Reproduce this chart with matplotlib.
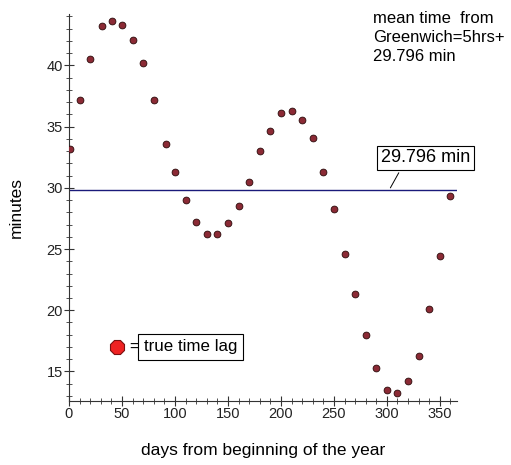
import matplotlib
matplotlib.use("Agg")
import matplotlib.pyplot as plt
from matplotlib.ticker import MultipleLocator

plt.rcParams['font.family'] = ['Liberation Sans', 'DejaVu Sans']

days = [1, 10, 20, 31, 41, 50, 60, 70, 80, 92, 100, 110, 120, 130, 140, 150,
        160, 170, 180, 190, 200, 210, 220, 230, 240, 250, 260, 270, 280, 290,
        300, 310, 320, 330, 340, 350, 360]
minutes = [33.2, 37.2, 40.5, 43.2, 43.6, 43.3, 42.1, 40.2, 37.2, 33.6, 31.3,
           29.0, 27.2, 26.2, 26.2, 27.1, 28.5, 30.5, 33.0, 34.6, 36.1, 36.3,
           35.5, 34.1, 31.3, 28.3, 24.6, 21.3, 18.0, 15.3, 13.5, 13.2, 14.2,
           16.3, 20.1, 24.4, 29.3]
mean_minutes = 29.796

fig = plt.figure(figsize=(5.11, 4.65), dpi=100)
ax = fig.add_axes([0.135, 0.138, 0.759, 0.832])

ax.scatter(days, minutes, s=24, c="#8b2a35", edgecolors="#2a0a0a", linewidths=0.6, zorder=3)
ax.plot([0, 365], [mean_minutes, mean_minutes], color="#1a1a7a", lw=1.0)

ax.set_xlim(0, 366)
ax.set_ylim(12.6, 44.2)
ax.xaxis.set_major_locator(MultipleLocator(50))
ax.xaxis.set_minor_locator(MultipleLocator(10))
ax.yaxis.set_major_locator(MultipleLocator(5))
ax.yaxis.set_minor_locator(MultipleLocator(1))

for s in ["top", "right"]:
    ax.spines[s].set_visible(False)
for s in ["left", "bottom"]:
    ax.spines[s].set_color("#333333")
ax.tick_params(which="major", direction="inout", length=7, color="#333333",
               labelsize=10.5, labelcolor="#222222", pad=1)
ax.tick_params(which="minor", direction="inout", length=5, color="#333333")

ax.set_xlabel("days from beginning of the year", fontsize=12.5, labelpad=16)
ax.set_ylabel("minutes", fontsize=12.5, labelpad=16)

ax.annotate("29.796 min", xy=(302, mean_minutes), xytext=(336.5, 32.45),
            fontsize=13, ha="center", va="center",
            bbox=dict(boxstyle="square,pad=0.2", fc="white", ec="black", lw=0.8),
            arrowprops=dict(arrowstyle="-", color="black", lw=0.7, relpos=(0.24, 0)))

fig.text(0.73, 0.977, "mean time  from\nGreenwich=5hrs+\n29.796 min",
         fontsize=12, va="top", ha="left", linespacing=1.35)

ax.plot([45], [17.0], marker="8", markersize=11, color="#ee2222",
        markeredgecolor="#7a1010", markeredgewidth=0.8, clip_on=False)
ax.text(57, 17.0, "=", fontsize=12, va="center", ha="left")
ax.text(70.7, 17.0, "true time lag", fontsize=12.2, va="center", ha="left",
        bbox=dict(boxstyle="square,pad=0.35", fc="white", ec="black", lw=0.8))

fig.savefig("out.png", dpi=100)
